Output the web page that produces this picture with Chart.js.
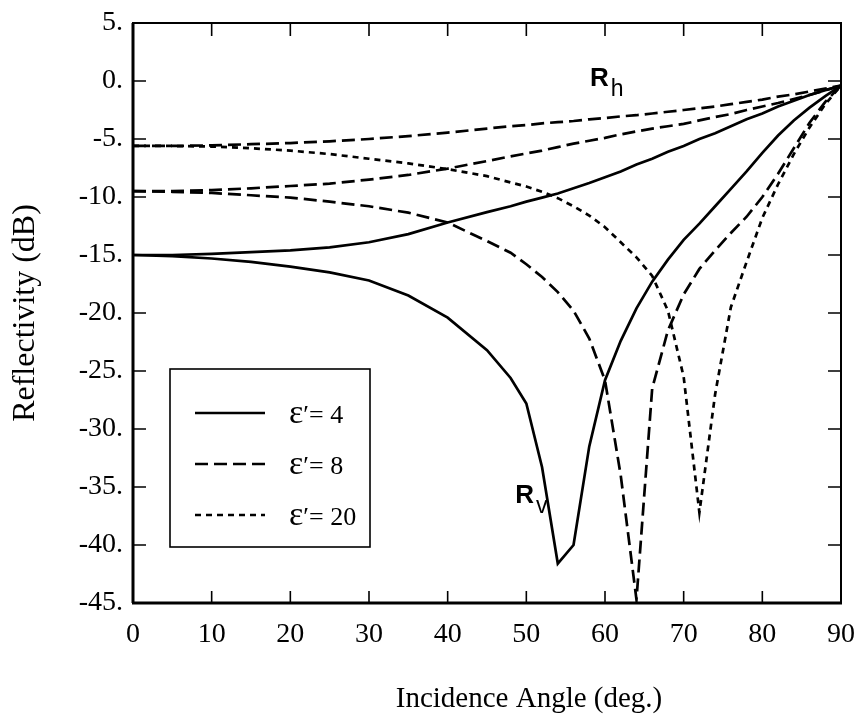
<!DOCTYPE html>
<html>
<head>
<meta charset="utf-8">
<script src="https://cdn.jsdelivr.net/npm/chart.js@4"></script>
<style>
  html, body { margin: 0; padding: 0; background: #fff; }
  #chart { display: block; }
</style>
</head>
<body>
<canvas id="chart" width="856" height="720"></canvas>
<script>
// incidence angles (deg.)
const angles = [0, 5, 10, 15, 20, 25, 30, 35, 40, 45, 48, 50, 52, 54, 56, 58, 60,
                62, 64, 66, 68, 70, 72, 74, 76, 78, 80, 82, 84, 86, 88, 90];

// reflectivity (dB)
const rh4  = [-15.0, -15.0, -14.9, -14.75, -14.6, -14.35, -13.9, -13.2, -12.2, -11.3, -10.8, -10.4, -10.05, -9.7, -9.25, -8.8, -8.3,
              -7.8, -7.2, -6.7, -6.1, -5.6, -5.0, -4.5, -3.9, -3.3, -2.8, -2.2, -1.7, -1.2, -0.8, -0.4];
const rv4  = [-15.0, -15.1, -15.3, -15.6, -16.0, -16.5, -17.2, -18.5, -20.4, -23.2, -25.6, -27.8, -33.3, -41.6, -40.0, -31.5, -25.8,
              -22.4, -19.6, -17.3, -15.4, -13.7, -12.3, -10.8, -9.3, -7.8, -6.2, -4.7, -3.4, -2.3, -1.3, -0.4];
const rh8  = [-9.5, -9.5, -9.4, -9.25, -9.05, -8.85, -8.5, -8.1, -7.55, -6.9, -6.5, -6.25, -6.0, -5.7, -5.4, -5.15, -4.9,
              -4.6, -4.35, -4.1, -3.9, -3.7, -3.4, -3.1, -2.85, -2.5, -2.2, -1.9, -1.55, -1.2, -0.8, -0.4];
const rv8  = [-9.5, -9.55, -9.65, -9.85, -10.05, -10.4, -10.8, -11.35, -12.2, -13.8, -14.8, -15.8, -16.9, -18.2, -19.8, -22.2, -25.8,
              -34.0, -44.7, -26.5, -21.5, -18.4, -16.2, -14.6, -13.1, -11.7, -10.0, -8.0, -5.8, -3.6, -1.8, -0.4];
const rh20 = [-5.6, -5.6, -5.55, -5.45, -5.35, -5.2, -5.0, -4.75, -4.45, -4.1, -3.9, -3.8, -3.65, -3.55, -3.45, -3.3, -3.2,
              -3.05, -2.95, -2.8, -2.65, -2.5, -2.35, -2.2, -2.0, -1.8, -1.6, -1.35, -1.15, -0.9, -0.65, -0.4];
const rv20 = [-5.6, -5.6, -5.65, -5.8, -6.0, -6.3, -6.7, -7.1, -7.6, -8.2, -8.75, -9.1, -9.55, -10.1, -10.8, -11.6, -12.6,
              -13.9, -15.2, -16.8, -19.8, -25.5, -37.2, -27.0, -19.5, -15.6, -11.8, -8.9, -6.3, -4.0, -2.0, -0.4];

const legendEps = ["4", "8", "20"];
const xTicks = [0, 10, 20, 30, 40, 50, 60, 70, 80, 90];
const yTicks = [5, 0, -5, -10, -15, -20, -25, -30, -35, -40, -45];
const xTitle = 'Incidence Angle (deg.)';
const yTitle = 'Reflectivity (dB)';

const SERIF = "'Liberation Serif', 'Times New Roman', serif";
const SANS = "'Liberation Sans', Arial, sans-serif";
const SOLID = [], DASH = [13, 6], DOT = [6, 5];

function pts(ys) {
  return angles.map((a, i) => ({ x: a, y: ys[i] }));
}

function line(label, ys, dash, legend) {
  return {
    label: label,
    data: pts(ys),
    borderColor: '#000',
    borderWidth: 2.7,
    borderDash: dash,
    pointRadius: 0,
    tension: 0,
    fill: false,
    legendText: legend
  };
}

function noPad(s) {
  s.paddingLeft = 0; s.paddingRight = 0;
  s.paddingTop = 0; s.paddingBottom = 0;
}

// box frame with inward ticks, x-axis title
const framePlugin = {
  id: 'frame',
  afterDraw(chart) {
    const { ctx, chartArea: a, scales: { x, y } } = chart;
    ctx.save();
    ctx.strokeStyle = '#000';
    ctx.lineWidth = 2;
    ctx.strokeRect(a.left, a.top, a.right - a.left, a.bottom - a.top);
    ctx.lineWidth = 3;
    ctx.beginPath();
    ctx.moveTo(a.left - 1, a.bottom);
    ctx.lineTo(a.right + 1, a.bottom);
    ctx.moveTo(a.left, a.top);
    ctx.lineTo(a.left, a.bottom);
    ctx.stroke();
    ctx.lineWidth = 1.6;
    ctx.beginPath();
    xTicks.forEach(v => {
      const px = x.getPixelForValue(v);
      ctx.moveTo(px, a.bottom); ctx.lineTo(px, a.bottom - 12);
      ctx.moveTo(px, a.top); ctx.lineTo(px, a.top + 13);
    });
    yTicks.forEach(v => {
      const py = y.getPixelForValue(v);
      ctx.moveTo(a.left, py); ctx.lineTo(a.left + 13, py);
      ctx.moveTo(a.right, py); ctx.lineTo(a.right - 13, py);
    });
    ctx.stroke();

    // x title sits right of centre in the original
    ctx.fillStyle = '#000';
    ctx.font = "29px " + SERIF;
    ctx.textAlign = 'center';
    ctx.textBaseline = 'alphabetic';
    ctx.fillText(xTitle, (a.left + a.right) / 2 + 42, a.bottom + 104);
    ctx.restore();
  }
};

// legend box inside the plot + R_h / R_v labels
const notePlugin = {
  id: 'notes',
  afterDraw(chart) {
    const { ctx, chartArea: a, scales: { x, y } } = chart;
    ctx.save();
    const bx = a.left + 37, by = a.top + 346, bw = 200, bh = 178;
    ctx.strokeStyle = '#000';
    ctx.lineWidth = 1.6;
    ctx.strokeRect(bx, by, bw, bh);
    const items = chart.data.datasets.filter(d => d.legendText);
    items.forEach((d, i) => {
      const ly = by + 44 + i * 51;
      ctx.setLineDash(d.borderDash);
      ctx.lineWidth = d.borderWidth;
      ctx.beginPath();
      ctx.moveTo(bx + 25, ly);
      ctx.lineTo(bx + 95, ly);
      ctx.stroke();
      ctx.setLineDash([]);
      ctx.fillStyle = '#000';
      ctx.textBaseline = 'alphabetic';
      ctx.textAlign = 'left';
      ctx.font = "34px " + SERIF;
      ctx.fillText('ε', bx + 119, ly + 10);
      const ew = ctx.measureText('ε').width;
      ctx.font = "26px " + SERIF;
      ctx.fillText('′= ' + d.legendText, bx + 119 + ew, ly + 10);
    });

    function rLabel(sub, xv, yv) {
      const px = x.getPixelForValue(xv), py = y.getPixelForValue(yv);
      ctx.textBaseline = 'alphabetic';
      ctx.textAlign = 'left';
      ctx.fillStyle = '#000';
      ctx.font = "bold 26px " + SANS;
      ctx.fillText('R', px, py);
      const w = ctx.measureText('R').width;
      ctx.font = "23px " + SANS;
      ctx.fillText(sub, px + w + 2, py + 10);
    }
    rLabel('h', 58.1, -0.4);
    rLabel('v', 48.6, -36.4);
    ctx.restore();
  }
};

new Chart(document.getElementById('chart'), {
  type: 'line',
  data: {
    datasets: [
      line('Rh 4', rh4, SOLID),
      line('Rv 4', rv4, SOLID, legendEps[0]),
      line('Rh 8', rh8, DASH),
      line('Rv 8', rv8, DASH, legendEps[1]),
      line('Rh 20', rh20, DASH),
      line('Rv 20', rv20, DOT, legendEps[2])
    ]
  },
  options: {
    responsive: false,
    animation: false,
    devicePixelRatio: 1,
    layout: { padding: { top: 23, right: 15, left: 0, bottom: 0 } },
    plugins: {
      legend: { display: false },
      tooltip: { enabled: false }
    },
    scales: {
      x: {
        type: 'linear',
        min: 0,
        max: 90,
        afterFit: s => { s.height = 117; noPad(s); },
        afterBuildTicks: s => { s.ticks = xTicks.map(v => ({ value: v })); },
        grid: { display: false, drawTicks: false },
        border: { display: false },
        ticks: {
          color: '#000',
          padding: 15,
          maxRotation: 0,
          autoSkip: false,
          font: { family: SERIF, size: 28 }
        },
        title: { display: false }
      },
      y: {
        type: 'linear',
        min: -45,
        max: 5,
        afterFit: s => { s.width = 133; noPad(s); },
        afterBuildTicks: s => { s.ticks = yTicks.map(v => ({ value: v })); },
        grid: { display: false, drawTicks: false },
        border: { display: false },
        ticks: {
          color: '#000',
          padding: 10,
          autoSkip: false,
          font: { family: SERIF, size: 28 },
          callback: v => v + '.'
        },
        title: {
          display: true,
          text: yTitle,
          color: '#000',
          padding: { top: 6, bottom: 0 },
          font: { family: SERIF, size: 32 }
        }
      }
    }
  },
  plugins: [framePlugin, notePlugin]
});
</script>
</body>
</html>
